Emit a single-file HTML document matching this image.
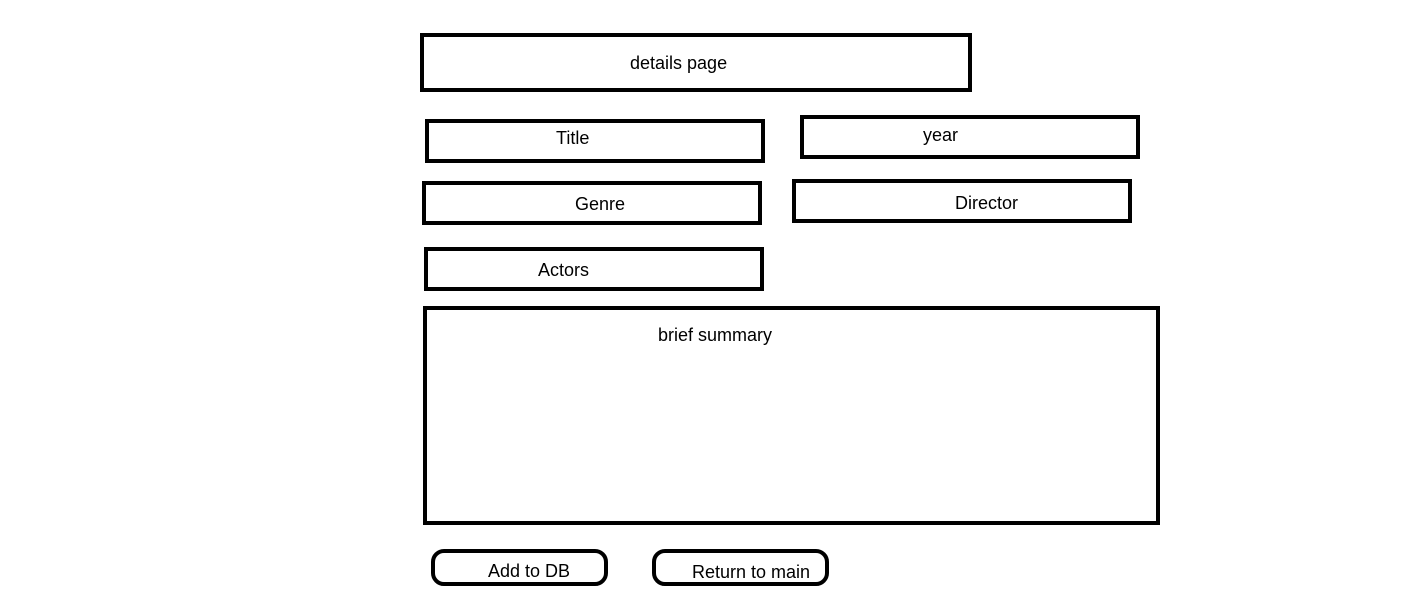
<!DOCTYPE html>
<html><head><style>html,body{margin:0;padding:0;background:#fff;}</style></head>
<body>
<svg width="1416" height="616" xmlns="http://www.w3.org/2000/svg" style="display:block">
<g fill="none" stroke="#000" stroke-width="4">
<rect x="422" y="35" width="548" height="55"/>
<rect x="427" y="121" width="336" height="40"/>
<rect x="802" y="117" width="336" height="40"/>
<rect x="424" y="183" width="336" height="40"/>
<rect x="794" y="181" width="336" height="40"/>
<rect x="426" y="249" width="336" height="40"/>
<rect x="425" y="308" width="733" height="215"/>
<rect x="433" y="551" width="173" height="33" rx="11"/>
<rect x="654" y="551" width="173" height="33" rx="11"/>
</g>
<g font-family="Liberation Sans, sans-serif" font-size="18" fill="#000">
<text x="630" y="69">details page</text>
<text x="556" y="144">Title</text>
<text x="923" y="141">year</text>
<text x="575" y="210">Genre</text>
<text x="955" y="209">Director</text>
<text x="538" y="276">Actors</text>
<text x="658" y="341">brief summary</text>
<text x="488" y="577">Add to DB</text>
<text x="692" y="578">Return to main</text>
</g>
</svg>
</body></html>
